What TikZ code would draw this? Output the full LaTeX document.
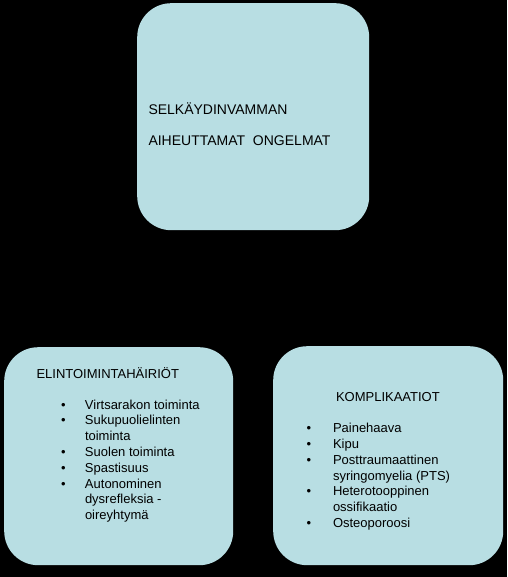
\documentclass[tikz,border=0pt]{standalone}
\usepackage{fontspec}
\setmainfont{Liberation Sans}
\definecolor{boxfill}{RGB}{184,222,227}
\newcommand\bulbox[1]{\makebox[#1][l]{•}}
\begin{document}
\begin{tikzpicture}[x=1pt,y=-1pt,
  card/.style={fill=boxfill, draw=none, rounded corners=34pt, inner sep=0pt, anchor=north west},
  listtxt/.style={anchor=base west, inner sep=0pt, outer sep=0pt, font=\fontsize{13}{15.8}\selectfont},
  ttltxt/.style={anchor=base west, inner sep=0pt, outer sep=0pt, font=\fontsize{14}{31}\selectfont}]
\useasboundingbox (0,0) rectangle (507,577);
\fill[black] (0,0) rectangle (507,577);
% boxes
\node[card, minimum width=232pt, minimum height=227pt] (top) at (137,3) {};
\node[card, minimum width=229pt, minimum height=218pt] (left) at (4,347) {};
\node[card, minimum width=230pt, minimum height=219pt] (right) at (273,346) {};
% top title
\node[ttltxt] (toptitle) at (148.5,115) {\begin{tabular}[t]{@{}l@{}}SELKÄYDINVAMMAN\\AIHEUTTAMAT\ \ ONGELMAT\end{tabular}};
% left box
\node[listtxt] (lefthead) at (36.5,378) {ELINTOIMINTAHÄIRIÖT};
\node[listtxt] (leftlist) at (61,409) {\begin{tabular}[t]{@{}l@{}}
\bulbox{24pt}Virtsarakon toiminta\\
\bulbox{24pt}Sukupuolielinten\\
\hspace*{24pt}toiminta\\
\bulbox{24pt}Suolen toiminta\\
\bulbox{24pt}Spastisuus\\
\bulbox{24pt}Autonominen\\
\hspace*{24pt}dysrefleksia -\\
\hspace*{24pt}oireyhtymä
\end{tabular}};
% right box
\node[listtxt] (righthead) at (336,401) {KOMPLIKAATIOT};
\node[listtxt] (rightlist) at (306.5,432.7) {\begin{tabular}[t]{@{}l@{}}
\bulbox{26.5pt}Painehaava\\
\bulbox{26.5pt}Kipu\\
\bulbox{26.5pt}Posttraumaattinen\\
\hspace*{26.5pt}syringomyelia (PTS)\\
\bulbox{26.5pt}Heterotooppinen\\
\hspace*{26.5pt}ossifikaatio\\
\bulbox{26.5pt}Osteoporoosi
\end{tabular}};
\end{tikzpicture}
\end{document}
